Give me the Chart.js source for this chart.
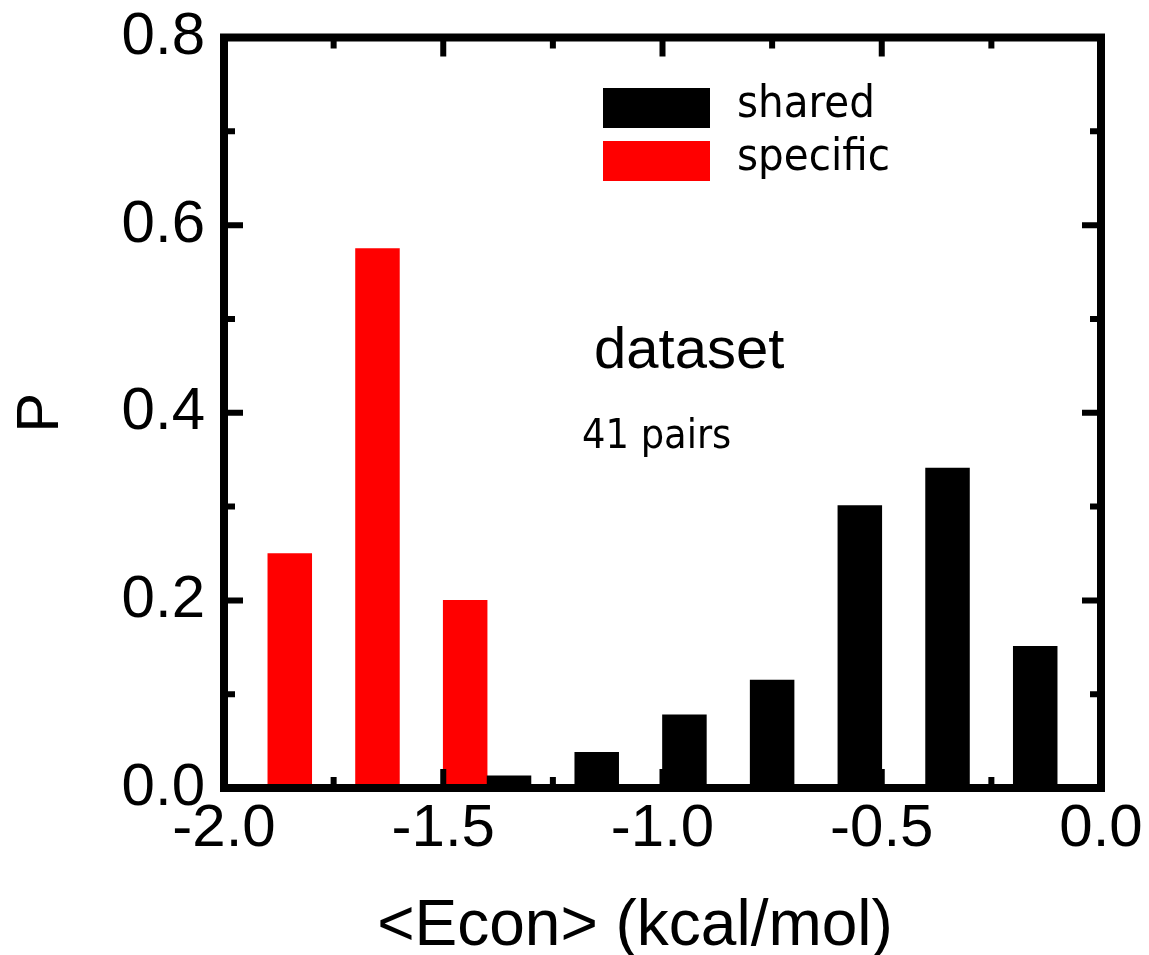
<!DOCTYPE html>
<html>
<head>
<meta charset="utf-8">
<title>Econ distribution</title>
<script src="https://cdn.jsdelivr.net/npm/chart.js@4.4.1/dist/chart.umd.min.js"></script>
<style>
  html, body { margin: 0; padding: 0; background: #fff; }
  canvas { display: block; }
</style>
</head>
<body>
<canvas id="econChart" width="1149" height="955"></canvas>
<script>
// bin centres (kcal/mol) and probabilities for each group
const specificBins = [-1.85, -1.65, -1.45];
const specificP = [0.25, 0.575, 0.20];
const sharedBins = [-1.35, -1.15, -0.95, -0.75, -0.55, -0.35, -0.15];
const sharedP = [0.013, 0.038, 0.078, 0.115, 0.301, 0.341, 0.151];

// axis ticks (major ones get labels)
const xTicks = [-2.0, -1.5, -1.0, -0.5, 0.0];
const xMinor = [-1.75, -1.25, -0.75, -0.25];
const yTicks = [0.0, 0.2, 0.4, 0.6, 0.8];
const yMinor = [0.1, 0.3, 0.5, 0.7];

const xTitle = '<Econ> (kcal/mol)';
const notes = ['dataset', '41 pairs'];

const arial = "Arial, 'Liberation Sans', sans-serif";
const condensed = "'DejaVu Sans Condensed', 'DejaVu Sans', sans-serif";

// thick box round the plot with ticks pointing inwards on every side
const framePlugin = {
    id: 'frame',
    afterDatasetsDraw(chart) {
        const { ctx, chartArea: a, scales: { x, y } } = chart;
        ctx.save();
        ctx.strokeStyle = '#000';
        ctx.lineCap = 'butt';
        ctx.lineWidth = 6;

        const xMarks = (vals, len) => vals.forEach(v => {
            const px = x.getPixelForValue(v);
            ctx.beginPath();
            ctx.moveTo(px, a.bottom); ctx.lineTo(px, a.bottom - len);
            ctx.moveTo(px, a.top); ctx.lineTo(px, a.top + len);
            ctx.stroke();
        });
        const yMarks = (vals, len) => vals.forEach(v => {
            const py = y.getPixelForValue(v);
            ctx.beginPath();
            ctx.moveTo(a.left, py); ctx.lineTo(a.left + len, py);
            ctx.moveTo(a.right, py); ctx.lineTo(a.right - len, py);
            ctx.stroke();
        });
        xMarks(xTicks, 19);
        xMarks(xMinor, 11);
        yMarks(yTicks, 19);
        yMarks(yMinor, 11);

        ctx.lineWidth = 8;
        ctx.lineJoin = 'miter';
        ctx.strokeRect(a.left, a.top, a.right - a.left, a.bottom - a.top);
        ctx.restore();
    }
};

// legend boxes, the text notes and the x axis title
const notesPlugin = {
    id: 'notes',
    afterDraw(chart) {
        const { ctx, chartArea: a } = chart;
        ctx.save();
        ctx.textAlign = 'left';
        ctx.textBaseline = 'alphabetic';
        ctx.fillStyle = '#000';

        chart.data.datasets.forEach((ds, i) => {
            const top = a.top + 50.5 + i * 53;
            ctx.fillStyle = ds.backgroundColor;
            ctx.fillRect(a.left + 379, top, 107, 40);
            ctx.fillStyle = '#000';
            ctx.font = '45px ' + condensed;
            ctx.fillText(ds.label, a.left + 513, top + 29);
        });

        ctx.font = '58px ' + arial;
        ctx.fillText(notes[0], a.left + 370, a.top + 330.5);
        ctx.font = '41px ' + condensed;
        ctx.fillText(notes[1], a.left + 358, a.top + 410.5);

        // axis title sits a little left of the axis centre
        ctx.font = '64px ' + arial;
        ctx.textAlign = 'center';
        ctx.textBaseline = 'middle';
        ctx.fillText(xTitle, a.left + 411, chart.height - 28);
        ctx.restore();
    }
};

const toPoints = (bins, vals) => bins.map((b, i) => ({ x: b, y: vals[i] }));

new Chart(document.getElementById('econChart').getContext('2d'), {
    type: 'bar',
    data: {
        datasets: [
            {
                label: 'shared',
                data: toPoints(sharedBins, sharedP),
                backgroundColor: '#000000',
                barPercentage: 1,
                categoryPercentage: 1,
                borderWidth: 0
            },
            {
                label: 'specific',
                data: toPoints(specificBins, specificP),
                backgroundColor: '#ff0000',
                barPercentage: 1,
                categoryPercentage: 1,
                borderWidth: 0
            }
        ]
    },
    options: {
        responsive: false,
        devicePixelRatio: 1,
        animation: false,
        layout: { padding: { top: 37.5, right: 48, left: 0, bottom: 0 } },
        plugins: {
            legend: { display: false },
            tooltip: { enabled: false }
        },
        scales: {
            x: {
                type: 'linear',
                stacked: true,
                offset: false,
                min: -2,
                max: 0,
                grid: { display: false, drawTicks: false },
                border: { display: false },
                afterBuildTicks: s => { s.ticks = xTicks.map(v => ({ value: v })); },
                afterFit: s => {
                    s.height = 167;
                    s.paddingLeft = 0;
                    s.paddingRight = 0;
                },
                ticks: {
                    callback: v => Number(v).toFixed(1),
                    color: '#000',
                    font: { family: arial, size: 60 },
                    padding: 5,
                    maxRotation: 0,
                    autoSkip: false
                }
            },
            y: {
                min: 0,
                max: 0.8,
                grid: { display: false, drawTicks: false },
                border: { display: false },
                afterBuildTicks: s => { s.ticks = yTicks.map(v => ({ value: v })); },
                afterFit: s => {
                    s.width = 224;
                    s.paddingTop = 0;
                    s.paddingBottom = 0;
                },
                ticks: {
                    callback: v => Number(v).toFixed(1),
                    color: '#000',
                    font: { family: arial, size: 60 },
                    padding: 19
                },
                title: {
                    display: true,
                    text: 'P',
                    color: '#000',
                    font: { family: arial, size: 60, lineHeight: 1.2 },
                    padding: { top: 5, bottom: 0 }
                }
            }
        }
    },
    plugins: [framePlugin, notesPlugin]
});
</script>
</body>
</html>
